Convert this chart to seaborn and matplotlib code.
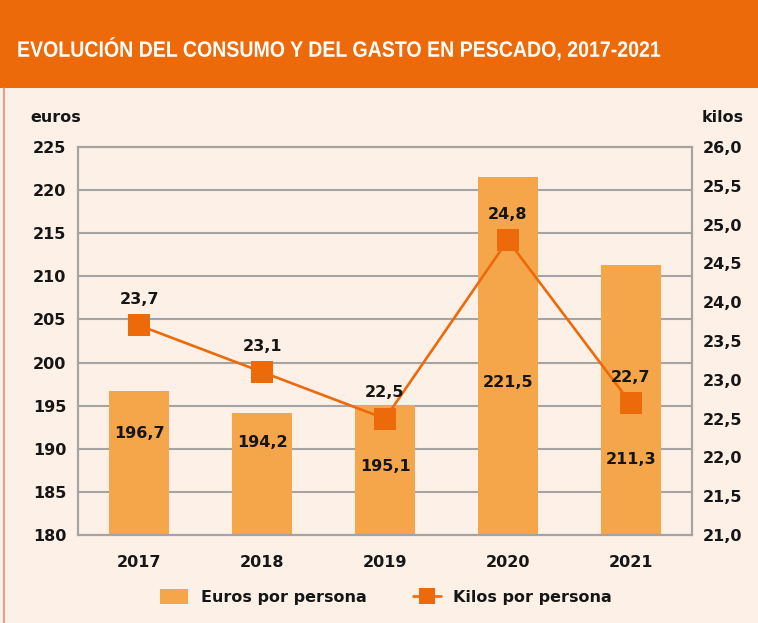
import matplotlib
matplotlib.use("Agg")
import matplotlib.pyplot as plt
import seaborn as sns
import numpy as np
import pandas as pd
from matplotlib.patches import Rectangle
from matplotlib.lines import Line2D
from matplotlib.patheffects import AbstractPathEffect
from matplotlib.transforms import Affine2D

# ---- data ----
years = ["2017", "2018", "2019", "2020", "2021"]
euros = [196.7, 194.2, 195.1, 221.5, 211.3]
kilos = [23.7, 23.1, 22.5, 24.8, 22.7]
euro_ticks = [180, 185, 190, 195, 200, 205, 210, 215, 220, 225]
kilo_ticks = [21.0, 21.5, 22.0, 22.5, 23.0, 23.5, 24.0, 24.5, 25.0, 25.5, 26.0]

# vertical placement of the bar value labels (euros scale)
bar_label_y = [191.8, 190.7, 187.9, 197.7, 188.7]

BG = "#fdf0e6"
HEADER = "#ec6a0a"
BAR = "#f5a54a"
LINE = "#ec6a0a"
GRID = "#a4a4a4"
TXT = "#161616"
FS = 11.5


class Squeeze(AbstractPathEffect):
    """Draw text narrower horizontally, anchored at a pixel x position."""

    def __init__(self, sx, x0):
        super().__init__()
        self.sx = sx
        self.x0 = x0

    def draw_path(self, renderer, gc, tpath, affine, rgbFace=None):
        squeeze = Affine2D().translate(-self.x0, 0).scale(self.sx, 1).translate(self.x0, 0)
        renderer.draw_path(gc, tpath, affine + squeeze, rgbFace)


sns.set_theme(style="white")
plt.rcParams["font.family"] = ["DejaVu Sans"]
plt.rcParams["font.weight"] = "bold"

fig = plt.figure(figsize=(7.58, 6.23), dpi=100, facecolor=BG)

# header band and title
fig.patches.append(Rectangle((0, 1 - 88 / 623), 1, 88 / 623, transform=fig.transFigure,
                             facecolor=HEADER, edgecolor="none", zorder=0))
fig.lines.append(Line2D([4 / 758, 4 / 758], [0, 1 - 88 / 623], transform=fig.transFigure,
                        color="#f08a7a", lw=1.2))
title_x = 17
fig.text(title_x / 758, 1 - 50 / 623, "EVOLUCIÓN DEL CONSUMO Y DEL GASTO EN PESCADO, 2017-2021",
         color="white", fontsize=16, fontweight="bold", va="center", ha="left",
         family=["Liberation Sans", "DejaVu Sans"],
         path_effects=[Squeeze(0.88, title_x)])

ax = fig.add_axes([78 / 758, 88 / 623, (692 - 78) / 758, (535 - 147) / 623])
ax.set_facecolor(BG)

df = pd.DataFrame({"year": years, "euros": euros, "kilos": kilos})
sns.barplot(data=df, x="year", y="euros", color=BAR, saturation=1, width=0.49,
            linewidth=0, edgecolor="none", ax=ax, zorder=2)
ax.set_ylim(180, 225)
ax.set_xlim(-0.5, 4.5)
ax.set_yticks(euro_ticks)
ax.set_yticklabels([str(t) for t in euro_ticks])
ax.yaxis.grid(True, color=GRID, lw=1.5, zorder=0)
ax.set_axisbelow(True)
ax.set_xlabel("")
ax.set_ylabel("")
ax.tick_params(axis="y", length=0, pad=8.5, labelsize=FS, labelcolor=TXT)
ax.tick_params(axis="x", length=0, pad=14.5, labelsize=FS, labelcolor=TXT)
for lab in ax.get_xticklabels() + ax.get_yticklabels():
    lab.set_fontweight("bold")
for s in ax.spines.values():
    s.set_color(GRID)
    s.set_linewidth(1.5)

for i, (v, ly) in enumerate(zip(euros, bar_label_y)):
    ax.text(i, ly, f"{v:.1f}".replace(".", ","), ha="center", va="center",
            fontsize=FS, fontweight="bold", color=TXT, zorder=5)

ax2 = ax.twinx()
sns.lineplot(x=np.arange(len(years)), y=kilos, ax=ax2, color=LINE, lw=1.9,
             marker="s", markersize=15.5, markeredgewidth=0, zorder=4)
ax2.set_ylim(21, 26)
ax2.set_yticks(kilo_ticks)
ax2.set_yticklabels([f"{t:.1f}".replace(".", ",") for t in kilo_ticks])
ax2.tick_params(axis="y", length=0, pad=8, labelsize=FS, labelcolor=TXT)
for lab in ax2.get_yticklabels():
    lab.set_fontweight("bold")
for s in ax2.spines.values():
    s.set_color(GRID)
    s.set_linewidth(1.5)
ax2.set_ylabel("")

for i, v in enumerate(kilos):
    ax2.annotate(f"{v:.1f}".replace(".", ","), (i, v), xytext=(0, 18.5),
                 textcoords="offset points", ha="center", va="center",
                 fontsize=FS, fontweight="bold", color=TXT, zorder=6)

fig.text(30 / 758, 1 - 118 / 623, "euros", fontsize=FS, fontweight="bold", color=TXT,
         va="center", ha="left")
fig.text(702 / 758, 1 - 118 / 623, "kilos", fontsize=FS, fontweight="bold", color=TXT,
         va="center", ha="left")

handles = [Rectangle((0, 0), 1, 1, facecolor=BAR, edgecolor="none"),
           Line2D([0], [0], color=LINE, lw=1.9, marker="s", markersize=12,
                  markeredgewidth=0)]
leg = fig.legend(handles, ["Euros por persona", "Kilos por persona"],
                 loc="center", bbox_to_anchor=(386 / 758, 1 - 597 / 623), ncol=2,
                 frameon=False, fontsize=FS, handlelength=1.75, handleheight=1.1,
                 columnspacing=2.9, handletextpad=0.8)
for t in leg.get_texts():
    t.set_fontweight("bold")
    t.set_color(TXT)

fig.savefig("out.png", dpi=100, facecolor=BG)
